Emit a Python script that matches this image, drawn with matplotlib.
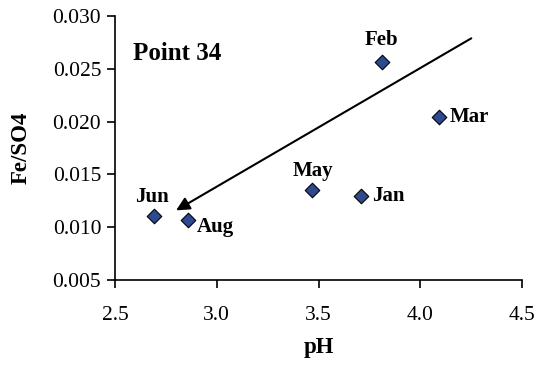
import matplotlib
matplotlib.use("Agg")
import matplotlib.pyplot as plt

plt.rcParams["font.family"] = ["Liberation Serif", "DejaVu Serif"]

months = ["Jan", "Feb", "Mar", "May", "Jun", "Aug"]
ph = [3.71, 3.81, 4.09, 3.47, 2.69, 2.86]
fe_so4 = [0.0130, 0.0257, 0.0204, 0.0135, 0.0111, 0.0107]

# label offsets in points (dx, dy) and alignment
label_pos = {
    "Jan": (8, 0, "left", "center"),
    "Feb": (0, 8, "center", "bottom"),
    "Mar": (8, 0, "left", "center"),
    "May": (0, 7, "center", "bottom"),
    "Jun": (-1, 6, "center", "bottom"),
    "Aug": (6, -5, "left", "center"),
}

arrow_start = (4.25, 0.0279)
arrow_end = (2.80, 0.0116)

fig = plt.figure(figsize=(5.4, 3.67), dpi=100)
ax = fig.add_axes([0.213, 0.237, 0.754, 0.719])

ax.scatter(ph, fe_so4, marker="D", s=55, color="#2F4A8C",
           edgecolor="black", linewidth=0.8, zorder=3)

for m, x, y in zip(months, ph, fe_so4):
    dx, dy, ha, va = label_pos[m]
    ax.annotate(m, (x, y), xytext=(dx, dy), textcoords="offset points",
                ha=ha, va=va, fontsize=15, fontweight="bold")

ax.annotate("", xy=arrow_end, xytext=arrow_start,
            arrowprops=dict(arrowstyle="-|>", color="black", lw=1.5,
                            mutation_scale=20, shrinkA=0, shrinkB=0))

ax.text(2.59, 0.0265, "Point 34", fontsize=18, fontweight="bold",
        ha="left", va="center")

ax.set_xlim(2.5, 4.5)
ax.set_ylim(0.005, 0.030)
ax.set_xticks([2.5, 3.0, 3.5, 4.0, 4.5])
ax.set_yticks([0.005, 0.010, 0.015, 0.020, 0.025, 0.030])
ax.set_xticklabels([f"{v:.1f}" for v in ax.get_xticks()])
ax.set_yticklabels([f"{v:.3f}" for v in ax.get_yticks()])
ax.tick_params(labelsize=15.5, direction="out", length=6, width=1.2)
ax.tick_params(axis="x", pad=13)
ax.tick_params(axis="y", pad=4)

for s in ["top", "right"]:
    ax.spines[s].set_visible(False)
for s in ["left", "bottom"]:
    ax.spines[s].set_linewidth(1.2)

ax.set_xlabel("pH", fontsize=16.5, fontweight="bold", labelpad=8)
ax.set_ylabel("Fe/SO4", fontsize=16.5, fontweight="bold", labelpad=15)

fig.savefig("out.png", dpi=100)
